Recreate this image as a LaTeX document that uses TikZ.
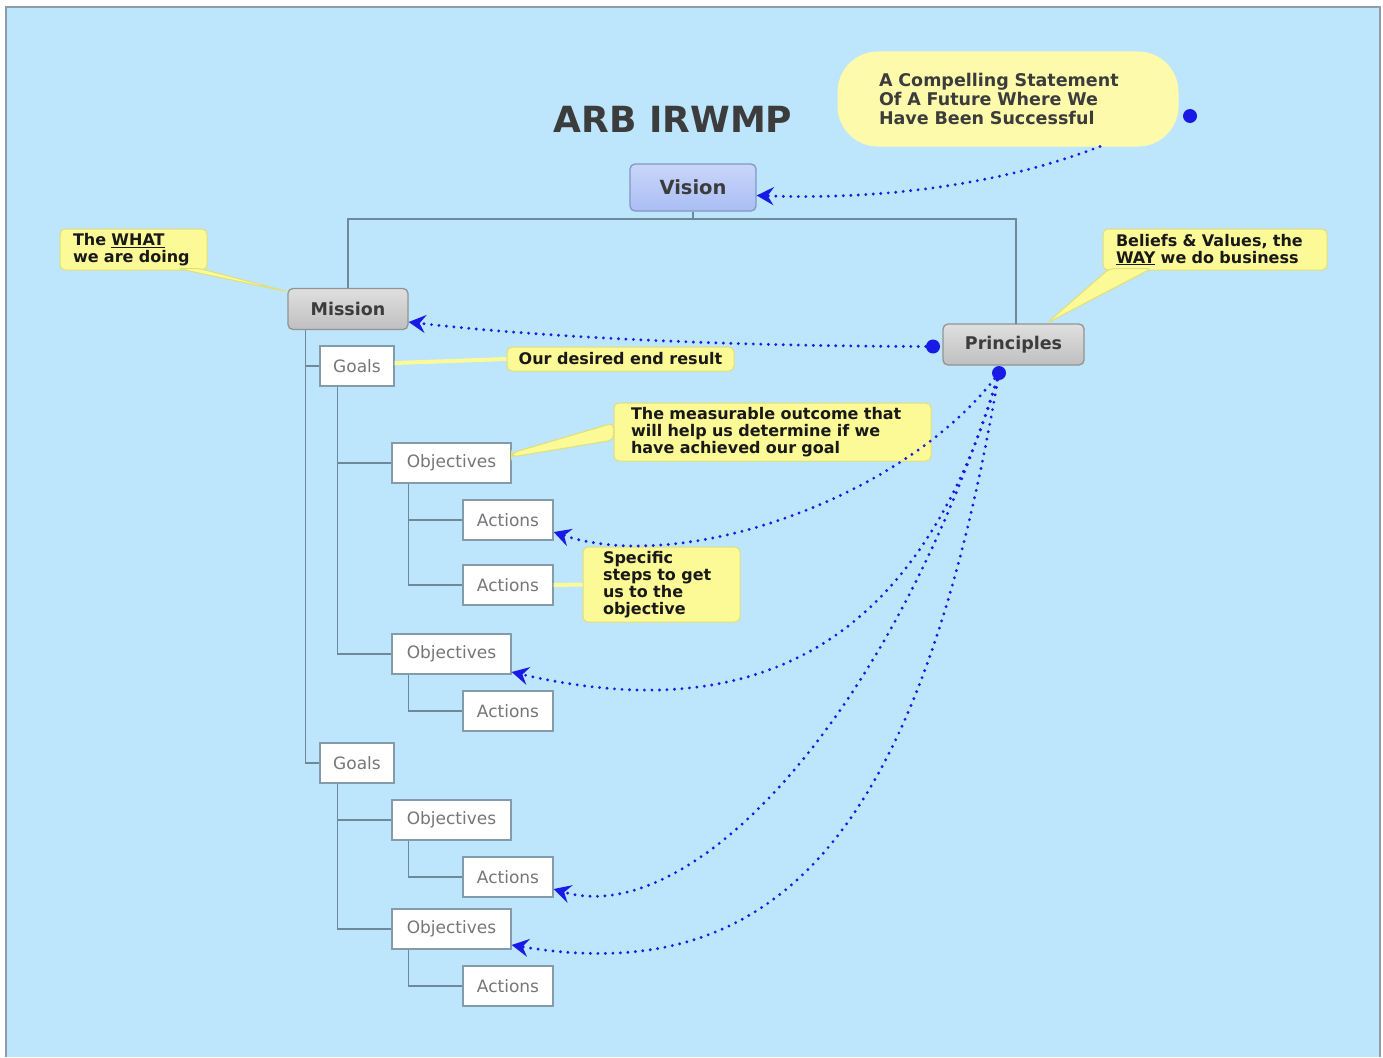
\documentclass[tikz,border=0pt]{standalone}
\usepackage{fontspec}
\setmainfont{DejaVu Sans}
\usetikzlibrary{arrows.meta}
\definecolor{sky}{HTML}{BDE5FB}
\definecolor{frame}{HTML}{8E9DA6}
\definecolor{tiegray}{HTML}{6E8A9A}
\definecolor{note}{HTML}{FCFA96}
\definecolor{noteedge}{HTML}{E2DE78}
\definecolor{linkblue}{HTML}{1A1AE6}
\definecolor{inktext}{HTML}{3C3C3C}
\definecolor{boxtext}{HTML}{767676}
\definecolor{visiontop}{HTML}{C9D6FA}
\definecolor{visionbot}{HTML}{AABEF4}
\definecolor{visionedge}{HTML}{8496C4}
\begin{document}
\begin{tikzpicture}[x=1pt,y=-1pt,
    box/.style = {draw=tiegray!85, line width=1.3pt, fill=white, minimum height=40pt,
        inner sep=0pt, text=boxtext, font=\fontsize{17}{20}\selectfont},
    head/.style = {draw=gray!85, line width=1.3pt, rounded corners=5pt, top color=gray!25,
        bottom color=gray!50, minimum height=41pt, inner sep=0pt, text=inktext,
        font=\bfseries\fontsize{17.5}{20}\selectfont},
    note/.style = {fill=note, draw=noteedge, line width=1pt, rounded corners=5pt,
        align=left, inner ysep=2pt, text=black!90, font=\bfseries\fontsize{16}{17}\selectfont},
    pointer/.style = {draw=note, line width=4pt},
    tie/.style = {draw=tiegray, line width=1.5pt},
    arrow/.style = {linkblue, line width=3.2pt, dash pattern=on 0pt off 7.5pt, line cap=round,
        -{Stealth[inset=6pt,length=17pt,width=18pt]}},
    dot/.style = {circle, fill=linkblue, inner sep=0pt, minimum size=14pt}]

    % Background
    \useasboundingbox (0,0) rectangle (1383,1057);
    \fill[white] (0,0) rectangle (1383,1057);
    \fill[sky] (6,7) rectangle (1380,1057);
    \draw[frame, line width=1.5pt] (6,1057) -- (6,7) -- (1380,7) -- (1380,1057);

    \node[text=inktext, font=\bfseries\fontsize{36}{40}\selectfont] (title) at (673,119) {ARB IRWMP};

    % Top level
    \node[head, minimum width=126pt, minimum height=47pt, draw=visionedge,
        top color=visiontop, bottom color=visionbot,
        font=\bfseries\fontsize{19.5}{22}\selectfont] (vision) at (693,187.5) {Vision};
    \node[head, minimum width=120pt] (mission) at (348,309) {Mission};
    \node[head, minimum width=141pt] (principles) at (1013.5,344.5) {Principles};

    \draw[tie] (vision.south) -- (693,219);
    \draw[tie] (mission.north) -- (348,219) -| (1016,324);

    % Goals, objectives, actions
    \node[box, minimum width=74pt] (goal1) at (357,366) {Goals};
    \node[box, minimum width=74pt] (goal2) at (357,763) {Goals};

    \node[box, minimum width=119pt] (obj1) at (451.5,463) {Objectives};
    \node[box, minimum width=119pt] (obj2) at (451.5,654) {Objectives};
    \node[box, minimum width=119pt] (obj3) at (451.5,820) {Objectives};
    \node[box, minimum width=119pt] (obj4) at (451.5,929) {Objectives};

    \node[box, minimum width=90pt] (act1) at (508,520) {Actions};
    \node[box, minimum width=90pt] (act2) at (508,585) {Actions};
    \node[box, minimum width=90pt] (act3) at (508,711) {Actions};
    \node[box, minimum width=90pt] (act4) at (508,877) {Actions};
    \node[box, minimum width=90pt] (act5) at (508,986) {Actions};

    \draw[tie] ([xshift=18pt]mission.south west) |- (goal2.west);
    \draw[tie] (goal1.west) -- ++(-14,0);

    \draw[tie] ([xshift=18pt]goal1.south west) |- (obj2.west);
    \draw[tie] (obj1.west) -- ++(-54,0);
    \draw[tie] ([xshift=18pt]goal2.south west) |- (obj4.west);
    \draw[tie] (obj3.west) -- ++(-54,0);

    \draw[tie] ([xshift=17pt]obj1.south west) |- (act2.west);
    \draw[tie] (act1.west) -- ++(-54,0);
    \draw[tie] ([xshift=17pt]obj2.south west) |- (act3.west);
    \draw[tie] ([xshift=17pt]obj3.south west) |- (act4.west);
    \draw[tie] ([xshift=17pt]obj4.south west) |- (act5.west);

    % Callouts
    \node[note, rounded corners=40pt, fill=note!80!white, draw=note!80!white, text=inktext,
        minimum width=340pt, minimum height=94pt, text width=258pt, inner xsep=41pt,
        font=\bfseries\fontsize{17.5}{19}\selectfont] (vnote) at (1008,99)
        {A Compelling Statement\\Of A Future Where We\\Have Been Successful};
    \node[note, minimum width=147pt, minimum height=41pt, text width=121pt, inner xsep=13pt]
        (what) at (133.5,249.5) {The \underline{WHAT}\\we are doing};
    \node[note, minimum width=224pt, minimum height=41pt, text width=198pt, inner xsep=13pt]
        (beliefs) at (1215,249.5) {Beliefs \& Values, the\\\underline{WAY} we do business};
    \node[note, minimum width=227pt, minimum height=24pt, inner sep=0pt]
        (goalnote) at (620.5,359) {Our desired end result};
    \node[note, minimum width=317pt, minimum height=58pt, text width=283pt, inner xsep=17pt]
        (objnote) at (772.5,432) {The measurable outcome that\\will help us determine if we\\have achieved our goal};
    \node[note, minimum width=157pt, minimum height=75pt, text width=117pt, inner xsep=20pt]
        (actnote) at (661.5,584.5) {Specific\\steps to get\\us to the\\objective};

    \fill[note] ([xshift=44pt,yshift=2pt]what.south) -- ([xshift=66pt,yshift=2pt]what.south)
        -- ([xshift=1pt,yshift=-4pt]mission.north west) -- cycle;
    \fill[note] ([xshift=7pt,yshift=2pt]beliefs.south west) -- ([xshift=49pt,yshift=2pt]beliefs.south west)
        -- ([xshift=33pt]principles.north) -- cycle;
    \fill[note] ([yshift=9pt]objnote.west) -- ([yshift=-8pt]objnote.west)
        -- ([yshift=6pt]obj1.east) -- ([yshift=10pt]obj1.east) -- cycle;
    \draw[pointer] ([yshift=3pt]goal1.east) -- (goalnote.west);
    \draw[pointer] (act2.east) -- (actnote.west);

    % Links
    \node[dot] (vdot) at (1190,116) {};
    \node[dot] (pleft) at (933,346.5) {};
    \node[dot] (pbot) at (999,373) {};

    \draw[arrow] ([xshift=92pt]vnote.south) .. controls (1000,185) and (880,200) .. ([yshift=-8pt]vision.east);
    \draw[arrow] (pleft) .. controls (700,346) and (520,335) .. ([yshift=-13pt]mission.east);
    \draw[arrow] (pbot) .. controls (900,500) and (680,575) .. ([yshift=-12pt]act1.east);
    \draw[arrow] (pbot) .. controls (920,640) and (760,730) .. ([yshift=-18pt]obj2.east);
    \draw[arrow] (pbot) .. controls (890,720) and (690,930) .. ([yshift=-12pt]act4.east);
    \draw[arrow] (pbot) .. controls (920,830) and (780,990) .. ([yshift=-16pt]obj4.east);
\end{tikzpicture}
\end{document}
